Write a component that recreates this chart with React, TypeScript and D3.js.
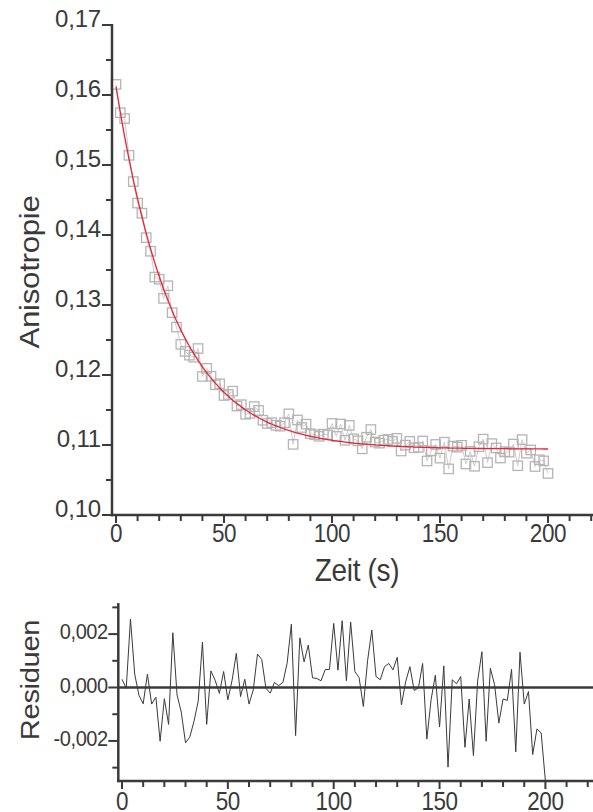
import React from 'react';
import * as d3 from 'd3';

const time = [0,2,4,6,8,10,12,14,16,18,20,22,24,26,28,30,32,34,36,38,40,42,44,46,48,50,52,54,56,58,60,62,64,66,68,70,72,74,76,78,80,82,84,86,88,90,92,94,96,98,100,102,104,106,108,110,112,114,116,118,120,122,124,126,128,130,132,134,136,138,140,142,144,146,148,150,152,154,156,158,160,162,164,166,168,170,172,174,176,178,180,182,184,186,188,190,192,194,196,198,200];

const anisotropy = [0.16151,0.15747,0.15663,0.15138,0.14763,0.14456,0.14311,0.13962,0.13768,0.13399,0.13368,0.13095,0.13275,0.12890,0.12684,0.12438,0.12337,0.12283,0.12254,0.12378,0.11979,0.12095,0.11982,0.11861,0.11875,0.11707,0.11722,0.11769,0.11557,0.11576,0.11439,0.11452,0.11549,0.11494,0.11354,0.11307,0.11319,0.11281,0.11269,0.11319,0.11445,0.11009,0.11357,0.11250,0.11298,0.11161,0.11146,0.11124,0.11155,0.11145,0.11308,0.11123,0.11300,0.11067,0.11280,0.11088,0.11059,0.10945,0.11111,0.11221,0.11042,0.11026,0.11070,0.11079,0.11051,0.11095,0.10914,0.10998,0.11052,0.10960,0.10967,0.11057,0.10772,0.10917,0.11008,0.10812,0.11040,0.10659,0.10985,0.10969,0.10995,0.10729,0.10909,0.10696,0.10975,0.11084,0.10748,0.11020,0.10958,0.10814,0.10904,0.10898,0.11014,0.10704,0.11077,0.10883,0.10929,0.10693,0.10789,0.10773,0.10593];

const fitValues = [0.16120,0.15750,0.15407,0.15088,0.14792,0.14517,0.14261,0.14024,0.13804,0.13600,0.13410,0.13233,0.13070,0.12918,0.12776,0.12645,0.12523,0.12410,0.12305,0.12208,0.12117,0.12033,0.11955,0.11883,0.11815,0.11753,0.11695,0.11641,0.11591,0.11545,0.11501,0.11461,0.11424,0.11389,0.11357,0.11328,0.11300,0.11274,0.11250,0.11228,0.11208,0.11189,0.11171,0.11154,0.11139,0.11125,0.11112,0.11099,0.11088,0.11077,0.11068,0.11058,0.11050,0.11042,0.11035,0.11028,0.11022,0.11016,0.11011,0.11006,0.11001,0.10997,0.10992,0.10989,0.10985,0.10982,0.10979,0.10976,0.10974,0.10971,0.10969,0.10967,0.10965,0.10963,0.10962,0.10960,0.10959,0.10957,0.10956,0.10955,0.10954,0.10953,0.10952,0.10951,0.10950,0.10950,0.10949,0.10948,0.10948,0.10947,0.10947,0.10946,0.10946,0.10945,0.10945,0.10945,0.10944,0.10944,0.10944,0.10943,0.10943];

const residuals = [0.00031,-0.00003,0.00256,0.00050,-0.00029,-0.00061,0.00050,-0.00062,-0.00036,-0.00201,-0.00042,-0.00138,0.00205,-0.00028,-0.00092,-0.00207,-0.00186,-0.00127,-0.00051,0.00170,-0.00138,0.00062,0.00027,-0.00022,0.00060,-0.00046,0.00027,0.00128,-0.00034,0.00031,-0.00062,-0.00009,0.00125,0.00105,-0.00003,-0.00021,0.00019,0.00007,0.00019,0.00091,0.00237,-0.00180,0.00186,0.00096,0.00159,0.00036,0.00034,0.00025,0.00067,0.00068,0.00240,0.00065,0.00250,0.00025,0.00245,0.00060,0.00037,-0.00071,0.00100,0.00215,0.00041,0.00029,0.00078,0.00090,0.00066,0.00113,-0.00065,0.00022,0.00078,-0.00011,-0.00002,0.00090,-0.00193,-0.00046,0.00046,-0.00148,0.00081,-0.00298,0.00029,0.00014,0.00041,-0.00224,-0.00043,-0.00255,0.00025,0.00134,-0.00201,0.00072,0.00010,-0.00133,-0.00043,-0.00048,0.00068,-0.00241,0.00132,-0.00062,-0.00015,-0.00251,-0.00155,-0.00170,-0.00350];

const xMajorTicks = [0, 50, 100, 150, 200];
const xTickLabels = ['0', '50', '100', '150', '200'];
const xMinorTicks = [10, 20, 30, 40, 60, 70, 80, 90, 110, 120, 130, 140, 160, 170, 180, 190, 210, 220];
const yMajorTicks = [0.10, 0.11, 0.12, 0.13, 0.14, 0.15, 0.16, 0.17];
const yTickLabels = ['0,10', '0,11', '0,12', '0,13', '0,14', '0,15', '0,16', '0,17'];
const yMinorTicks = [0.105, 0.115, 0.125, 0.135, 0.145, 0.155, 0.165];
const rMajorTicks = [-0.002, 0, 0.002];
const rTickLabels = ['-0,002', '0,000', '0,002'];
const rMinorTicks = [-0.003, -0.001, 0.001, 0.003];

const AX = '#3a3a3a';
const FONT = '"Liberation Sans", Arial, sans-serif';

function T({ x, y, anchor = 'middle', size, rotate = false, spacing = -0.4, sy = 1.12, children }: any) {
  const tr = rotate
    ? `translate(${x},${y}) scale(1,${sy}) rotate(-90)`
    : `translate(${x},${y}) scale(1,${sy})`;
  return (
    <text transform={tr} textAnchor={anchor} fontSize={size} fill={AX} letterSpacing={spacing}>{children}</text>
  );
}

export default function App() {
  const W = 593, H = 812;
  const x = d3.scaleLinear().domain([-1.85, 222]).range([112, 112 + 223.85 * 2.16]);
  const y = d3.scaleLinear().domain([0.10, 0.17]).range([515, 25]);
  const xr = d3.scaleLinear().domain([-1.75, 222]).range([118.3, 118.3 + 223.75 * 2.117]);
  const yr = d3.scaleLinear().domain([-0.0035, 0.00316]).range([781, 603.1]);

  const pts = time.map((t, i) => ({ t, v: anisotropy[i], f: fitValues[i], r: residuals[i] }));
  const dataLine = d3.line<any>().x(d => x(d.t)).y(d => y(d.v))(pts) || '';
  const fitLine = d3.line<any>().x(d => x(d.t)).y(d => y(d.f)).curve(d3.curveMonotoneX)(pts) || '';
  const resLine = d3.line<any>().x(d => xr(d.t)).y(d => yr(Math.max(d.r, -0.0035)))(pts) || '';

  const x0 = x(-1.85);
  const xr0 = xr(-1.75);
  const sq = 9.4;

  return (
    <svg width={W} height={H} style={{ position: 'absolute', left: 0, top: 0, background: '#fff' }} fontFamily={FONT}>
      <rect x={0} y={0} width={W} height={H} fill="#fff" />
      {/* main plot */}
      <path d={dataLine} fill="none" stroke="#cccccc" strokeWidth={1} />
      {pts.map((p, i) => (
        <rect key={i} x={x(p.t) - sq / 2} y={y(p.v) - sq / 2} width={sq} height={sq}
          fill="none" stroke="#b5b5b5" strokeWidth={1.3} />
      ))}
      <path d={fitLine} fill="none" stroke="#e62538" strokeWidth={1.3} />

      <line x1={x0} x2={x0} y1={y(0.17) - 1} y2={y(0.10) + 1.2} stroke={AX} strokeWidth={2.5} />
      {yMajorTicks.map((v, i) => (
        <g key={'ym' + i}>
          <line x1={x0 - 10} x2={x0} y1={y(v)} y2={y(v)} stroke={AX} strokeWidth={2} />
          <T x={x0 - 11} y={y(v) + 1.5} anchor="end" size={24} sy={1.0} spacing={-0.2}>{yTickLabels[i]}</T>
        </g>
      ))}
      {yMinorTicks.map((v, i) => (
        <line key={'yn' + i} x1={x0 - 6} x2={x0} y1={y(v)} y2={y(v)} stroke={AX} strokeWidth={2} />
      ))}

      <line x1={x0 - 1.2} x2={W + 5} y1={515} y2={515} stroke={AX} strokeWidth={2.5} />
      {xMajorTicks.map((v, i) => (
        <g key={'xm' + i}>
          <line x1={x(v)} x2={x(v)} y1={515} y2={523} stroke={AX} strokeWidth={2} />
          <T x={x(v)} y={542} size={22.5}>{xTickLabels[i]}</T>
        </g>
      ))}
      {xMinorTicks.map((v, i) => (
        <line key={'xn' + i} x1={x(v)} x2={x(v)} y1={515} y2={521} stroke={AX} strokeWidth={2} />
      ))}

      <T x={357} y={581} size={28} spacing={-0.3}>Zeit (s)</T>
      <T x={39} y={272} size={28} rotate spacing={-0.3}>Anisotropie</T>

      {/* residual plot */}
      <line x1={xr0} x2={W + 5} y1={yr(0)} y2={yr(0)} stroke={AX} strokeWidth={2.5} />
      <path d={resLine} fill="none" stroke="#3a3a3a" strokeWidth={1} />

      <line x1={xr0} x2={xr0} y1={yr(0.00316)} y2={781 + 1.2} stroke={AX} strokeWidth={2.5} />
      {rMajorTicks.map((v, i) => (
        <g key={'rm' + i}>
          <line x1={xr0 - 10} x2={xr0} y1={yr(v)} y2={yr(v)} stroke={AX} strokeWidth={2} />
          <T x={xr0 - 10.5} y={yr(v) + 5} anchor="end" size={20} sy={1.08}>{rTickLabels[i]}</T>
        </g>
      ))}
      {rMinorTicks.map((v, i) => (
        <line key={'rn' + i} x1={xr0 - 6} x2={xr0} y1={yr(v)} y2={yr(v)} stroke={AX} strokeWidth={2} />
      ))}

      <line x1={xr0 - 1.2} x2={W + 5} y1={781} y2={781} stroke={AX} strokeWidth={2.5} />
      {xMajorTicks.map((v, i) => (
        <g key={'rxm' + i}>
          <line x1={xr(v)} x2={xr(v)} y1={781} y2={789} stroke={AX} strokeWidth={2} />
          <T x={xr(v)} y={810} size={22.5}>{xTickLabels[i]}</T>
        </g>
      ))}
      {xMinorTicks.map((v, i) => (
        <line key={'rxn' + i} x1={xr(v)} x2={xr(v)} y1={781} y2={787} stroke={AX} strokeWidth={2} />
      ))}

      <T x={39} y={680} size={26} rotate spacing={-0.3}>Residuen</T>
    </svg>
  );
}
